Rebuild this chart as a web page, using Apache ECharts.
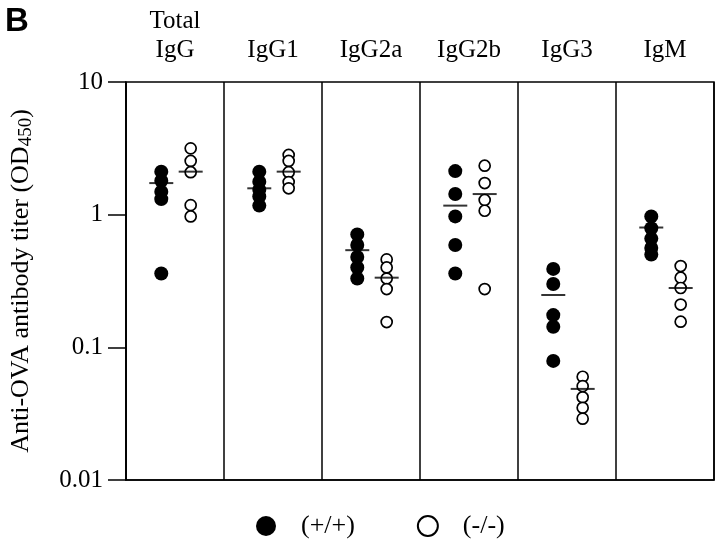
<!DOCTYPE html>
<html><head><meta charset="utf-8">
<script src="https://cdn.jsdelivr.net/npm/echarts@6/dist/echarts.min.js"></script>
<style>html,body{margin:0;padding:0;background:#fff}#c{width:720px;height:544px}</style>
</head><body><div id="c"></div><script>
const categories = ['Total\nIgG', 'IgG1', 'IgG2a', 'IgG2b', 'IgG3', 'IgM'];
const wildType = [
  [2.11, 1.80, 1.49, 1.31, 0.36],
  [2.11, 1.77, 1.54, 1.37, 1.17],
  [0.71, 0.59, 0.48, 0.40, 0.33],
  [2.13, 1.43, 0.97, 0.59, 0.36],
  [0.39, 0.30, 0.175, 0.143, 0.079],
  [0.97, 0.79, 0.66, 0.56, 0.50]
];
const knockout = [
  [3.16, 2.54, 2.09, 1.18, 0.97],
  [2.82, 2.54, 2.09, 1.76, 1.58],
  [0.46, 0.40, 0.33, 0.275, 0.155],
  [2.34, 1.73, 1.29, 1.07, 0.275],
  [0.060, 0.051, 0.042, 0.035, 0.029],
  [0.41, 0.335, 0.28, 0.21, 0.156]
];
const wildTypeMean = [1.73, 1.58, 0.54, 1.17, 0.248, 0.80];
const knockoutMean = [2.11, 2.11, 0.335, 1.43, 0.0486, 0.28];
const yTickLabels = ['0.01', '0.1', '1', '10'];
const seriesNames = ['(+/+)', '(-/-)'];

const serif = 'Liberation Serif';
const wtPos = 0.36, koPos = 0.66;
function pts(groups, off) {
  const out = [];
  groups.forEach((g, i) => g.forEach(v => out.push([i + off, v])));
  return out;
}
function means(arr, off) { return arr.map((v, i) => [i + off, v]); }

const chart = echarts.init(document.getElementById('c'), null, {renderer: 'canvas'});
chart.setOption({
  animation: false,
  backgroundColor: '#fff',
  title: {text: 'B', left: 0, top: 0, textStyle: {fontFamily: 'Liberation Sans', fontWeight: 'bold', fontSize: 33, color: '#000'}},
  grid: {left: 123, right: 6, top: 82, bottom: 64, show: true, borderColor: '#000', borderWidth: 1.5, backgroundColor: 'transparent'},
  legend: {
    data: seriesNames, left: 251, top: 508, itemWidth: 20, itemHeight: 23, itemGap: 62,
    textStyle: {fontFamily: serif, fontSize: 26, color: '#000', padding: [0, 0, 0, 20]}
  },
  xAxis: [
    {type: 'value', min: 0, max: 6, interval: 1, axisLabel: {show: false}, axisTick: {show: false},
     axisLine: {show: true, lineStyle: {color: '#000', width: 1.5}},
     splitLine: {show: true, lineStyle: {color: '#000', width: 1.5}}},
    {type: 'category', position: 'top', data: categories, boundaryGap: true,
     axisLine: {show: false}, axisTick: {show: false}, splitLine: {show: false},
     axisLabel: {fontFamily: serif, fontSize: 25, color: '#000', margin: 17, lineHeight: 29, interval: 0}}
  ],
  yAxis: {
    type: 'log', logBase: 10, min: 0.01, max: 10,
    axisLine: {show: true, lineStyle: {color: '#000', width: 1.5}},
    axisTick: {show: true, length: 18, lineStyle: {color: '#000', width: 1.5}},
    minorTick: {show: false}, splitLine: {show: false},
    axisLabel: {fontFamily: serif, fontSize: 25, color: '#000', margin: 23,
      formatter: v => yTickLabels[Math.round(Math.log10(v)) + 2]},
    name: '{a|Anti-OVA antibody titer (OD}{s|450}{a|)}',
    nameLocation: 'middle', nameGap: 90, nameRotate: 90,
    nameTextStyle: {rich: {
      a: {fontFamily: serif, fontSize: 26, color: '#000', lineHeight: 30, verticalAlign: 'middle'},
      s: {fontFamily: serif, fontSize: 19, color: '#000', lineHeight: 30, verticalAlign: 'bottom', padding: [9, 0, 0, 0]}
    }}
  },
  series: [
    {name: seriesNames[0], type: 'scatter', xAxisIndex: 0, symbol: 'circle', symbolSize: 14,
     itemStyle: {color: '#000', opacity: 1}, data: pts(wildType, wtPos), z: 3},
    {name: seriesNames[1], type: 'scatter', xAxisIndex: 0, symbol: 'circle', symbolSize: 11,
     itemStyle: {color: '#fff', borderColor: '#000', borderWidth: 1.7, opacity: 1}, data: pts(knockout, koPos), z: 3},
    {name: 'mean+', type: 'scatter', xAxisIndex: 0, symbol: 'rect', symbolSize: [24, 2],
     itemStyle: {color: '#000'}, data: means(wildTypeMean, wtPos), z: 4},
    {name: 'mean-', type: 'scatter', xAxisIndex: 0, symbol: 'rect', symbolSize: [24, 2],
     itemStyle: {color: '#000'}, data: means(knockoutMean, koPos), z: 4}
  ]
});
</script></body></html>
